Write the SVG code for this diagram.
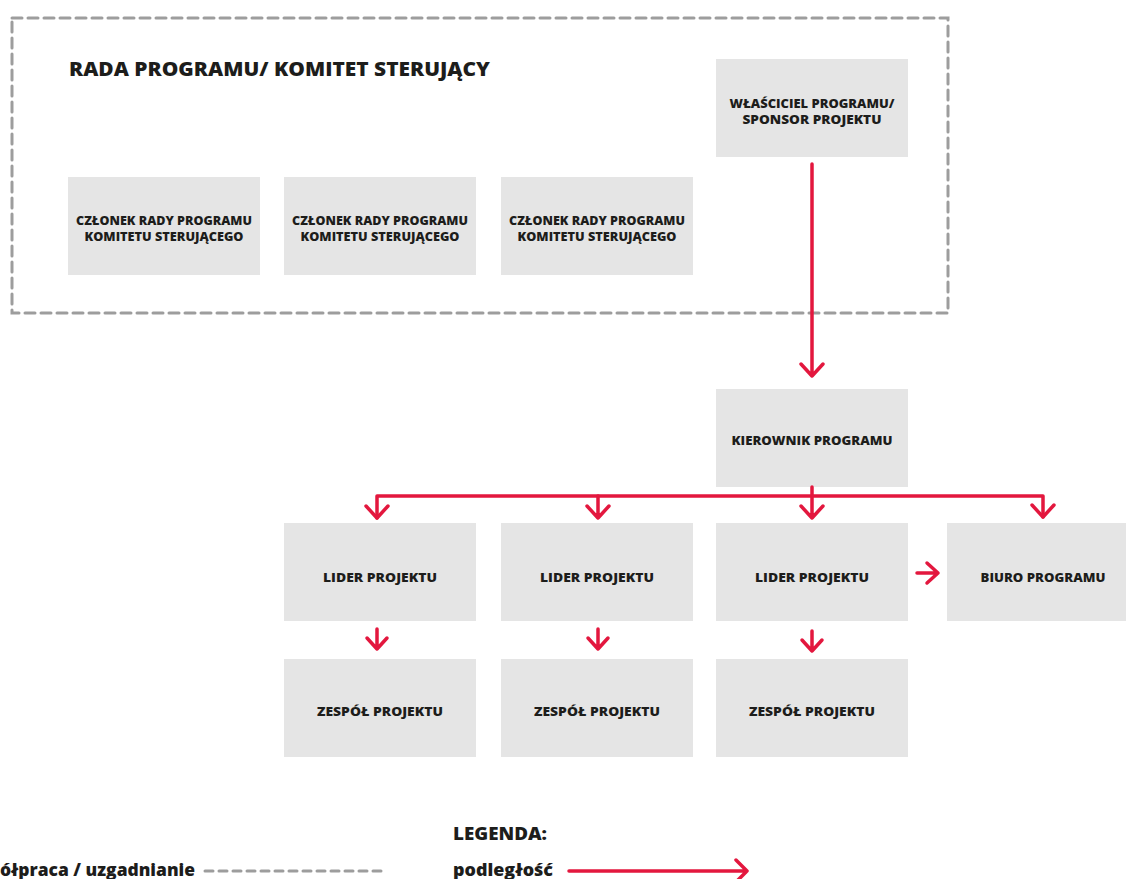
<svg xmlns="http://www.w3.org/2000/svg" width="1126" height="879" viewBox="0 0 1126 879">
<defs>
<style>
.box{fill:#e5e5e5}
.t{font-family:"Open Sans","Liberation Sans",sans-serif;font-weight:800;fill:#1d1d1b;text-anchor:middle;font-size:11.5px}
.big{font-family:"Open Sans","Liberation Sans",sans-serif;font-weight:800;fill:#1d1d1b;font-size:19.5px}
.leg{font-family:"Open Sans","Liberation Sans",sans-serif;font-weight:800;fill:#1d1d1b;font-size:18px}
.red{stroke:#e3173e;stroke-width:3.5;fill:none;stroke-linecap:round;stroke-linejoin:round}
.dash{stroke:#9d9d9d;stroke-width:3;fill:none;stroke-dasharray:10 6;stroke-linecap:round}
.dash2{stroke:#9d9d9d;stroke-width:3;fill:none;stroke-dasharray:8 6;stroke-linecap:round}
</style>
</defs>
<rect width="1126" height="879" fill="#ffffff"/>
<g id="rada">
<rect class="dash" x="12" y="18" width="936" height="295"/>
<text class="big" x="69" y="76" textLength="421" lengthAdjust="spacingAndGlyphs">RADA PROGRAMU/ KOMITET STERUJĄCY</text>
</g>
<g id="wlasciciel">
<rect class="box" x="716" y="59" width="192" height="98"/>
<text class="t" x="812" y="108" textLength="165" lengthAdjust="spacingAndGlyphs">WŁAŚCICIEL PROGRAMU/</text>
<text class="t" x="812" y="124" textLength="139" lengthAdjust="spacingAndGlyphs">SPONSOR PROJEKTU</text>
</g>
<g id="czlonek1">
<rect class="box" x="68" y="177" width="192" height="98"/>
<text class="t" x="164" y="225" textLength="176" lengthAdjust="spacingAndGlyphs">CZŁONEK RADY PROGRAMU</text>
<text class="t" x="164" y="241" textLength="159" lengthAdjust="spacingAndGlyphs">KOMITETU STERUJĄCEGO</text>
</g>
<g id="czlonek2">
<rect class="box" x="284" y="177" width="192" height="98"/>
<text class="t" x="380" y="225" textLength="176" lengthAdjust="spacingAndGlyphs">CZŁONEK RADY PROGRAMU</text>
<text class="t" x="380" y="241" textLength="159" lengthAdjust="spacingAndGlyphs">KOMITETU STERUJĄCEGO</text>
</g>
<g id="czlonek3">
<rect class="box" x="501" y="177" width="192" height="98"/>
<text class="t" x="597" y="225" textLength="176" lengthAdjust="spacingAndGlyphs">CZŁONEK RADY PROGRAMU</text>
<text class="t" x="597" y="241" textLength="159" lengthAdjust="spacingAndGlyphs">KOMITETU STERUJĄCEGO</text>
</g>
<g id="kierownik">
<rect class="box" x="716" y="389" width="192" height="98"/>
<text class="t" x="812" y="445" textLength="161" lengthAdjust="spacingAndGlyphs">KIEROWNIK PROGRAMU</text>
</g>
<g id="lider1">
<rect class="box" x="284" y="523" width="192" height="98"/>
<text class="t" x="380" y="582" textLength="114" lengthAdjust="spacingAndGlyphs">LIDER PROJEKTU</text>
</g>
<g id="lider2">
<rect class="box" x="501" y="523" width="192" height="98"/>
<text class="t" x="597" y="582" textLength="114" lengthAdjust="spacingAndGlyphs">LIDER PROJEKTU</text>
</g>
<g id="lider3">
<rect class="box" x="716" y="523" width="192" height="98"/>
<text class="t" x="812" y="582" textLength="114" lengthAdjust="spacingAndGlyphs">LIDER PROJEKTU</text>
</g>
<g id="biuro">
<rect class="box" x="947" y="523" width="192" height="98"/>
<text class="t" x="1043" y="582" textLength="125" lengthAdjust="spacingAndGlyphs">BIURO PROGRAMU</text>
</g>
<g id="zespol1">
<rect class="box" x="284" y="659" width="192" height="98"/>
<text class="t" x="380" y="716" textLength="126" lengthAdjust="spacingAndGlyphs">ZESPÓŁ PROJEKTU</text>
</g>
<g id="zespol2">
<rect class="box" x="501" y="659" width="192" height="98"/>
<text class="t" x="597" y="716" textLength="126" lengthAdjust="spacingAndGlyphs">ZESPÓŁ PROJEKTU</text>
</g>
<g id="zespol3">
<rect class="box" x="716" y="659" width="192" height="98"/>
<text class="t" x="812" y="716" textLength="126" lengthAdjust="spacingAndGlyphs">ZESPÓŁ PROJEKTU</text>
</g>
<g id="connectors">
<path class="red" d="M812 164 V376 M801 364 L812 376 L823 364"/>
<path class="red" d="M812 487 V518 M801 506 L812 518 L823 506"/>
<path class="red" d="M377 518 V496 H1043 V517"/>
<path class="red" d="M366 506 L377 518 L388 506"/>
<path class="red" d="M598 496 V518 M587 506 L598 518 L609 506"/>
<path class="red" d="M1032 505 L1043 517 L1054 505"/>
<path class="red" d="M377 629 V649 M367 638 L377 649 L387 638"/>
<path class="red" d="M598 629 V649 M588 638 L598 649 L608 638"/>
<path class="red" d="M812 631 V651 M802 640 L812 651 L822 640"/>
<path class="red" d="M917 573 H938 M927 563 L938 573 L927 583"/>
</g>
<g id="legenda">
<text class="leg" x="453" y="840" textLength="94" lengthAdjust="spacingAndGlyphs">LEGENDA:</text>
<text class="leg" x="453" y="876" textLength="100" lengthAdjust="spacingAndGlyphs">podległość</text>
<path class="red" d="M569 871 H747 M736 860 L747 871 L736 882"/>
<text class="leg" x="0" y="876" textLength="195" lengthAdjust="spacingAndGlyphs">ółpraca / uzgadnianie</text>
<path class="dash2" d="M205 871 H384"/>
</g>
</svg>
